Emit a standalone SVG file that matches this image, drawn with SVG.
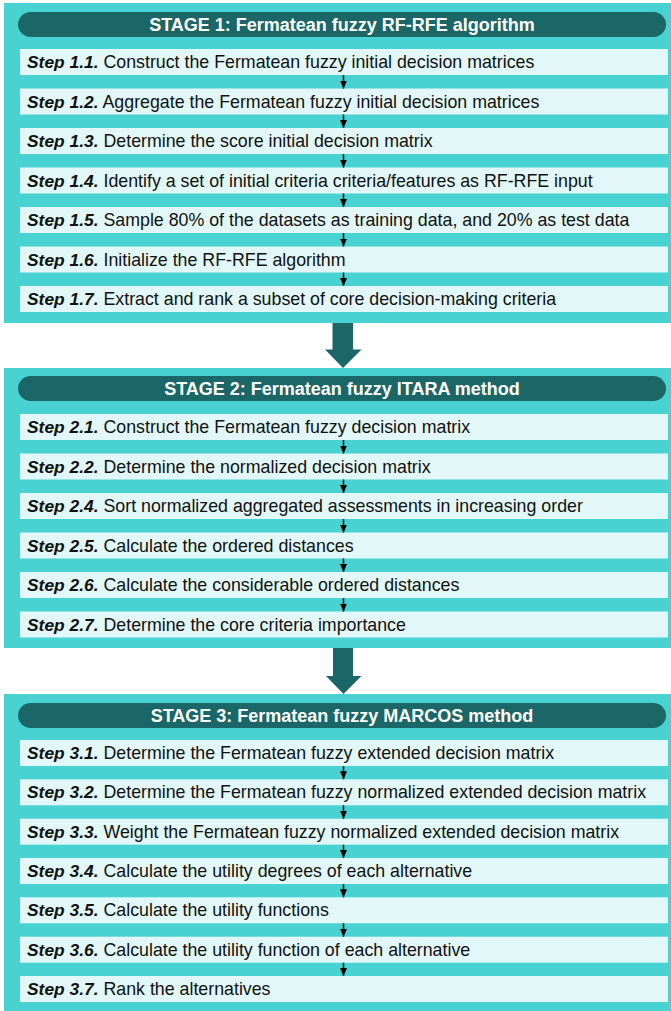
<svg xmlns="http://www.w3.org/2000/svg" width="671" height="1011" viewBox="0 0 671 1011">
<defs>
<style>
.panel{fill:#48D2D2}
.pill{fill:#1B6666}
.box{fill:#E2F7F7}
.title{font-family:"Liberation Sans",Arial,sans-serif;font-size:18px;font-weight:bold;fill:#FFFFFF;text-anchor:middle}
.txt{font-family:"Liberation Sans",Arial,sans-serif;font-size:17.8px;fill:#111111}
.b{font-weight:bold;font-style:italic;font-size:17.4px}
.small{stroke:#000;stroke-width:1.5;fill:none}
.big{fill:#1B6666}
</style>
<marker id="ah" markerUnits="userSpaceOnUse" markerWidth="9" markerHeight="8" refX="8" refY="3.5" orient="auto">
<path d="M0,0 L8,3.5 L0,7 z" fill="#000"/>
</marker>
</defs>
<rect width="671" height="1011" fill="#FFFFFF"/>

<g id="stage1">
<rect class="panel" x="4" y="3" width="680" height="320"/>
<rect class="pill" x="18" y="12" width="648" height="25" rx="12.5"/>
<text class="title" x="342" y="30.5">STAGE 1: Fermatean fuzzy RF-RFE algorithm</text>
</g>
<g id="step1-1"><rect class="box" x="20" y="49" width="648" height="26"/><text class="txt" x="27" y="68"><tspan class="b">Step 1.1.</tspan> Construct the Fermatean fuzzy initial decision matrices</text></g>
<g id="step1-2"><rect class="box" x="20" y="88.5" width="648" height="26"/><text class="txt" x="27" y="107.5"><tspan class="b">Step 1.2.</tspan> Aggregate the Fermatean fuzzy initial decision matrices</text></g>
<g id="step1-3"><rect class="box" x="20" y="128" width="648" height="26"/><text class="txt" x="27" y="147"><tspan class="b">Step 1.3.</tspan> Determine the score initial decision matrix</text></g>
<g id="step1-4"><rect class="box" x="20" y="167.5" width="648" height="26"/><text class="txt" x="27" y="186.5"><tspan class="b">Step 1.4.</tspan> Identify a set of initial criteria criteria/features as RF-RFE input</text></g>
<g id="step1-5"><rect class="box" x="20" y="207" width="648" height="26"/><text class="txt" x="27" y="226"><tspan class="b">Step 1.5.</tspan> Sample 80% of the datasets as training data, and 20% as test data</text></g>
<g id="step1-6"><rect class="box" x="20" y="246.5" width="648" height="26"/><text class="txt" x="27" y="265.5"><tspan class="b">Step 1.6.</tspan> Initialize the RF-RFE algorithm</text></g>
<g id="step1-7"><rect class="box" x="20" y="286" width="648" height="26"/><text class="txt" x="27" y="305"><tspan class="b">Step 1.7.</tspan> Extract and rank a subset of core decision-making criteria</text></g>

<g id="stage2">
<rect class="panel" x="4" y="368" width="680" height="280"/>
<rect class="pill" x="18" y="376" width="648" height="25" rx="12.5"/>
<text class="title" x="342" y="394.5">STAGE 2: Fermatean fuzzy ITARA method</text>
</g>
<g id="step2-1"><rect class="box" x="20" y="414" width="648" height="26"/><text class="txt" x="27" y="433"><tspan class="b">Step 2.1.</tspan> Construct the Fermatean fuzzy decision matrix</text></g>
<g id="step2-2"><rect class="box" x="20" y="453.5" width="648" height="26"/><text class="txt" x="27" y="472.5"><tspan class="b">Step 2.2.</tspan> Determine the normalized decision matrix</text></g>
<g id="step2-4"><rect class="box" x="20" y="493" width="648" height="26"/><text class="txt" x="27" y="512"><tspan class="b">Step 2.4.</tspan> Sort normalized aggregated assessments in increasing order</text></g>
<g id="step2-5"><rect class="box" x="20" y="532.5" width="648" height="26"/><text class="txt" x="27" y="551.5"><tspan class="b">Step 2.5.</tspan> Calculate the ordered distances</text></g>
<g id="step2-6"><rect class="box" x="20" y="572" width="648" height="26"/><text class="txt" x="27" y="591"><tspan class="b">Step 2.6.</tspan> Calculate the considerable ordered distances</text></g>
<g id="step2-7"><rect class="box" x="20" y="611.5" width="648" height="26"/><text class="txt" x="27" y="630.5"><tspan class="b">Step 2.7.</tspan> Determine the core criteria importance</text></g>

<g id="stage3">
<rect class="panel" x="4" y="694" width="680" height="330"/>
<rect class="pill" x="18" y="703" width="648" height="25" rx="12.5"/>
<text class="title" x="342" y="721.5">STAGE 3: Fermatean fuzzy MARCOS method</text>
</g>
<g id="step3-1"><rect class="box" x="20" y="740" width="648" height="26"/><text class="txt" x="27" y="759"><tspan class="b">Step 3.1.</tspan> Determine the Fermatean fuzzy extended decision matrix</text></g>
<g id="step3-2"><rect class="box" x="20" y="779.3" width="648" height="26"/><text class="txt" x="27" y="798.3"><tspan class="b">Step 3.2.</tspan> Determine the Fermatean fuzzy normalized extended decision matrix</text></g>
<g id="step3-3"><rect class="box" x="20" y="818.7" width="648" height="26"/><text class="txt" x="27" y="837.7"><tspan class="b">Step 3.3.</tspan> Weight the Fermatean fuzzy normalized extended decision matrix</text></g>
<g id="step3-4"><rect class="box" x="20" y="858" width="648" height="26"/><text class="txt" x="27" y="877"><tspan class="b">Step 3.4.</tspan> Calculate the utility degrees of each alternative</text></g>
<g id="step3-5"><rect class="box" x="20" y="897.3" width="648" height="26"/><text class="txt" x="27" y="916.3"><tspan class="b">Step 3.5.</tspan> Calculate the utility functions</text></g>
<g id="step3-6"><rect class="box" x="20" y="936.7" width="648" height="26"/><text class="txt" x="27" y="955.7"><tspan class="b">Step 3.6.</tspan> Calculate the utility function of each alternative</text></g>
<g id="step3-7"><rect class="box" x="20" y="976" width="648" height="26"/><text class="txt" x="27" y="995"><tspan class="b">Step 3.7.</tspan> Rank the alternatives</text></g>

<g id="connectors">
<line class="small" x1="343.5" y1="75" x2="343.5" y2="88.5" marker-end="url(#ah)"/>
<line class="small" x1="343.5" y1="114.5" x2="343.5" y2="128" marker-end="url(#ah)"/>
<line class="small" x1="343.5" y1="154" x2="343.5" y2="167.5" marker-end="url(#ah)"/>
<line class="small" x1="343.5" y1="193.5" x2="343.5" y2="207" marker-end="url(#ah)"/>
<line class="small" x1="343.5" y1="233" x2="343.5" y2="246.5" marker-end="url(#ah)"/>
<line class="small" x1="343.5" y1="272.5" x2="343.5" y2="286" marker-end="url(#ah)"/>
<line class="small" x1="343.5" y1="440" x2="343.5" y2="453.5" marker-end="url(#ah)"/>
<line class="small" x1="343.5" y1="479.5" x2="343.5" y2="493" marker-end="url(#ah)"/>
<line class="small" x1="343.5" y1="519" x2="343.5" y2="532.5" marker-end="url(#ah)"/>
<line class="small" x1="343.5" y1="558.5" x2="343.5" y2="572" marker-end="url(#ah)"/>
<line class="small" x1="343.5" y1="598" x2="343.5" y2="611.5" marker-end="url(#ah)"/>
<line class="small" x1="343.5" y1="766" x2="343.5" y2="779.3" marker-end="url(#ah)"/>
<line class="small" x1="343.5" y1="805.3" x2="343.5" y2="818.7" marker-end="url(#ah)"/>
<line class="small" x1="343.5" y1="844.7" x2="343.5" y2="858" marker-end="url(#ah)"/>
<line class="small" x1="343.5" y1="884" x2="343.5" y2="897.3" marker-end="url(#ah)"/>
<line class="small" x1="343.5" y1="923.3" x2="343.5" y2="936.7" marker-end="url(#ah)"/>
<line class="small" x1="343.5" y1="962.7" x2="343.5" y2="976" marker-end="url(#ah)"/>
<polygon class="big" points="332.5,323 353,323 353,349.5 361.5,349.5 343,368 325,349.5 332.5,349.5"/>
<polygon class="big" points="333,648 353,648 353,676 361.5,676 343.5,694 326,676 333,676"/>
</g>
</svg>
